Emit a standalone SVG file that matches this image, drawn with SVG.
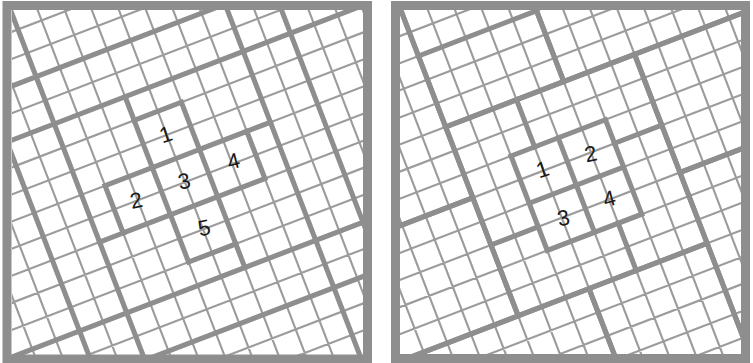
<svg xmlns="http://www.w3.org/2000/svg" width="753" height="363" viewBox="0 0 753 363">
<style>
.fine{fill:none;stroke:#9c9c9c;stroke-width:0.085}
.thick{fill:none;stroke:#8e8e8e;stroke-width:0.2;stroke-linejoin:miter;stroke-linecap:square}
.frame{fill:none;stroke:#8e8e8e;stroke-width:9}
.lbl{font-family:"Liberation Sans",Arial,sans-serif;font-size:22px;fill:#1a1a1a;text-anchor:middle}
</style>
<defs>
<clipPath id="clipL"><rect x="12" y="10" width="351" height="345"/></clipPath>
<clipPath id="clipR"><rect x="400" y="10" width="341" height="344"/></clipPath>
<path id="fgrid" d="M-14,-14v30m1,-30v30m1,-30v30m1,-30v30m1,-30v30m1,-30v30m1,-30v30m1,-30v30m1,-30v30m1,-30v30m1,-30v30m1,-30v30m1,-30v30m1,-30v30m1,-30v30m1,-30v30m1,-30v30m1,-30v30m1,-30v30m1,-30v30m1,-30v30m1,-30v30m1,-30v30m1,-30v30m1,-30v30m1,-30v30m1,-30v30m1,-30v30m1,-30v30m1,-30v30m1,-30v30M-14,-14h30m-30,1h30m-30,1h30m-30,1h30m-30,1h30m-30,1h30m-30,1h30m-30,1h30m-30,1h30m-30,1h30m-30,1h30m-30,1h30m-30,1h30m-30,1h30m-30,1h30m-30,1h30m-30,1h30m-30,1h30m-30,1h30m-30,1h30m-30,1h30m-30,1h30m-30,1h30m-30,1h30m-30,1h30m-30,1h30m-30,1h30m-30,1h30m-30,1h30m-30,1h30m-30,1h30"/>
</defs>

<g id="panel-left">
<g clip-path="url(#clipL)">
<rect x="12" y="10" width="351" height="345" fill="#ffffff"/>
<g transform="translate(152.3,167.6) rotate(-21) scale(25.3)">
<use href="#fgrid" class="fine"/>
<g id="grid-left" class="thick">
<path d="M-5,-14V16M-3,-14V16M5,-14V16M7,-14V16M-14,-5H16M-14,-3H16M-14,5H16M-14,7H16"/>
</g>
<g id="plus" class="thick">
<path d="M0,-2H2V0H4V2H2V4H0V2H-2V0H0Z M0,0H2V2H0Z"/>
<path d="M2,4V5M-2,2H-3M0,-2V-3M4,0H5"/>
</g>
</g>
</g>
<rect class="frame" x="7" y="5.5" width="360.5" height="353.5"/>
<g id="labels-left" class="lbl">
<text transform="translate(165.7,134) rotate(-18)" y="8">1</text>
<text transform="translate(136,200) rotate(-12)" y="8">2</text>
<text transform="translate(184,180.7) rotate(-12)" y="8">3</text>
<text transform="translate(233.3,160.7) rotate(-15)" y="8">4</text>
<text transform="translate(204,227.3) rotate(-12)" y="8">5</text>
</g>
</g>

<g id="panel-right">
<g clip-path="url(#clipR)">
<rect x="400" y="10" width="341" height="344" fill="#ffffff"/>
<g transform="translate(511,156) rotate(-21) scale(25.3)">
<use href="#fgrid" class="fine"/>
<g id="tiles-right" class="thick">
<rect x="-2" y="-2" width="8" height="8"/>
<rect x="6" y="3" width="8" height="8"/>
<rect x="-7" y="6" width="8" height="8"/>
<rect x="-10" y="-7" width="8" height="8"/>
<rect x="3" y="-10" width="8" height="8"/>
<rect x="-15" y="1" width="8" height="8"/>
<rect x="6" y="-2" width="5" height="5"/>
<rect x="1" y="6" width="5" height="5"/>
<rect x="-2" y="-7" width="5" height="5"/>
<rect x="-7" y="1" width="5" height="5"/>
<path d="M-2,-5H3"/>
</g>
<g id="square" class="thick">
<path d="M0,0H4V4H0Z M2,0V4M0,2H4"/>
<path d="M1,0V-2M4,1H6M3,4V6M0,3H-2"/>
</g>
</g>
</g>
<rect class="frame" x="395.5" y="5.5" width="350" height="353"/>
<g id="labels-right" class="lbl">
<text transform="translate(542.3,169) rotate(-18)" y="8">1</text>
<text transform="translate(590.7,153.3) rotate(-12)" y="8">2</text>
<text transform="translate(563.3,217.3) rotate(-12)" y="8">3</text>
<text transform="translate(609,198.3) rotate(-15)" y="8">4</text>
</g>
</g>
</svg>
